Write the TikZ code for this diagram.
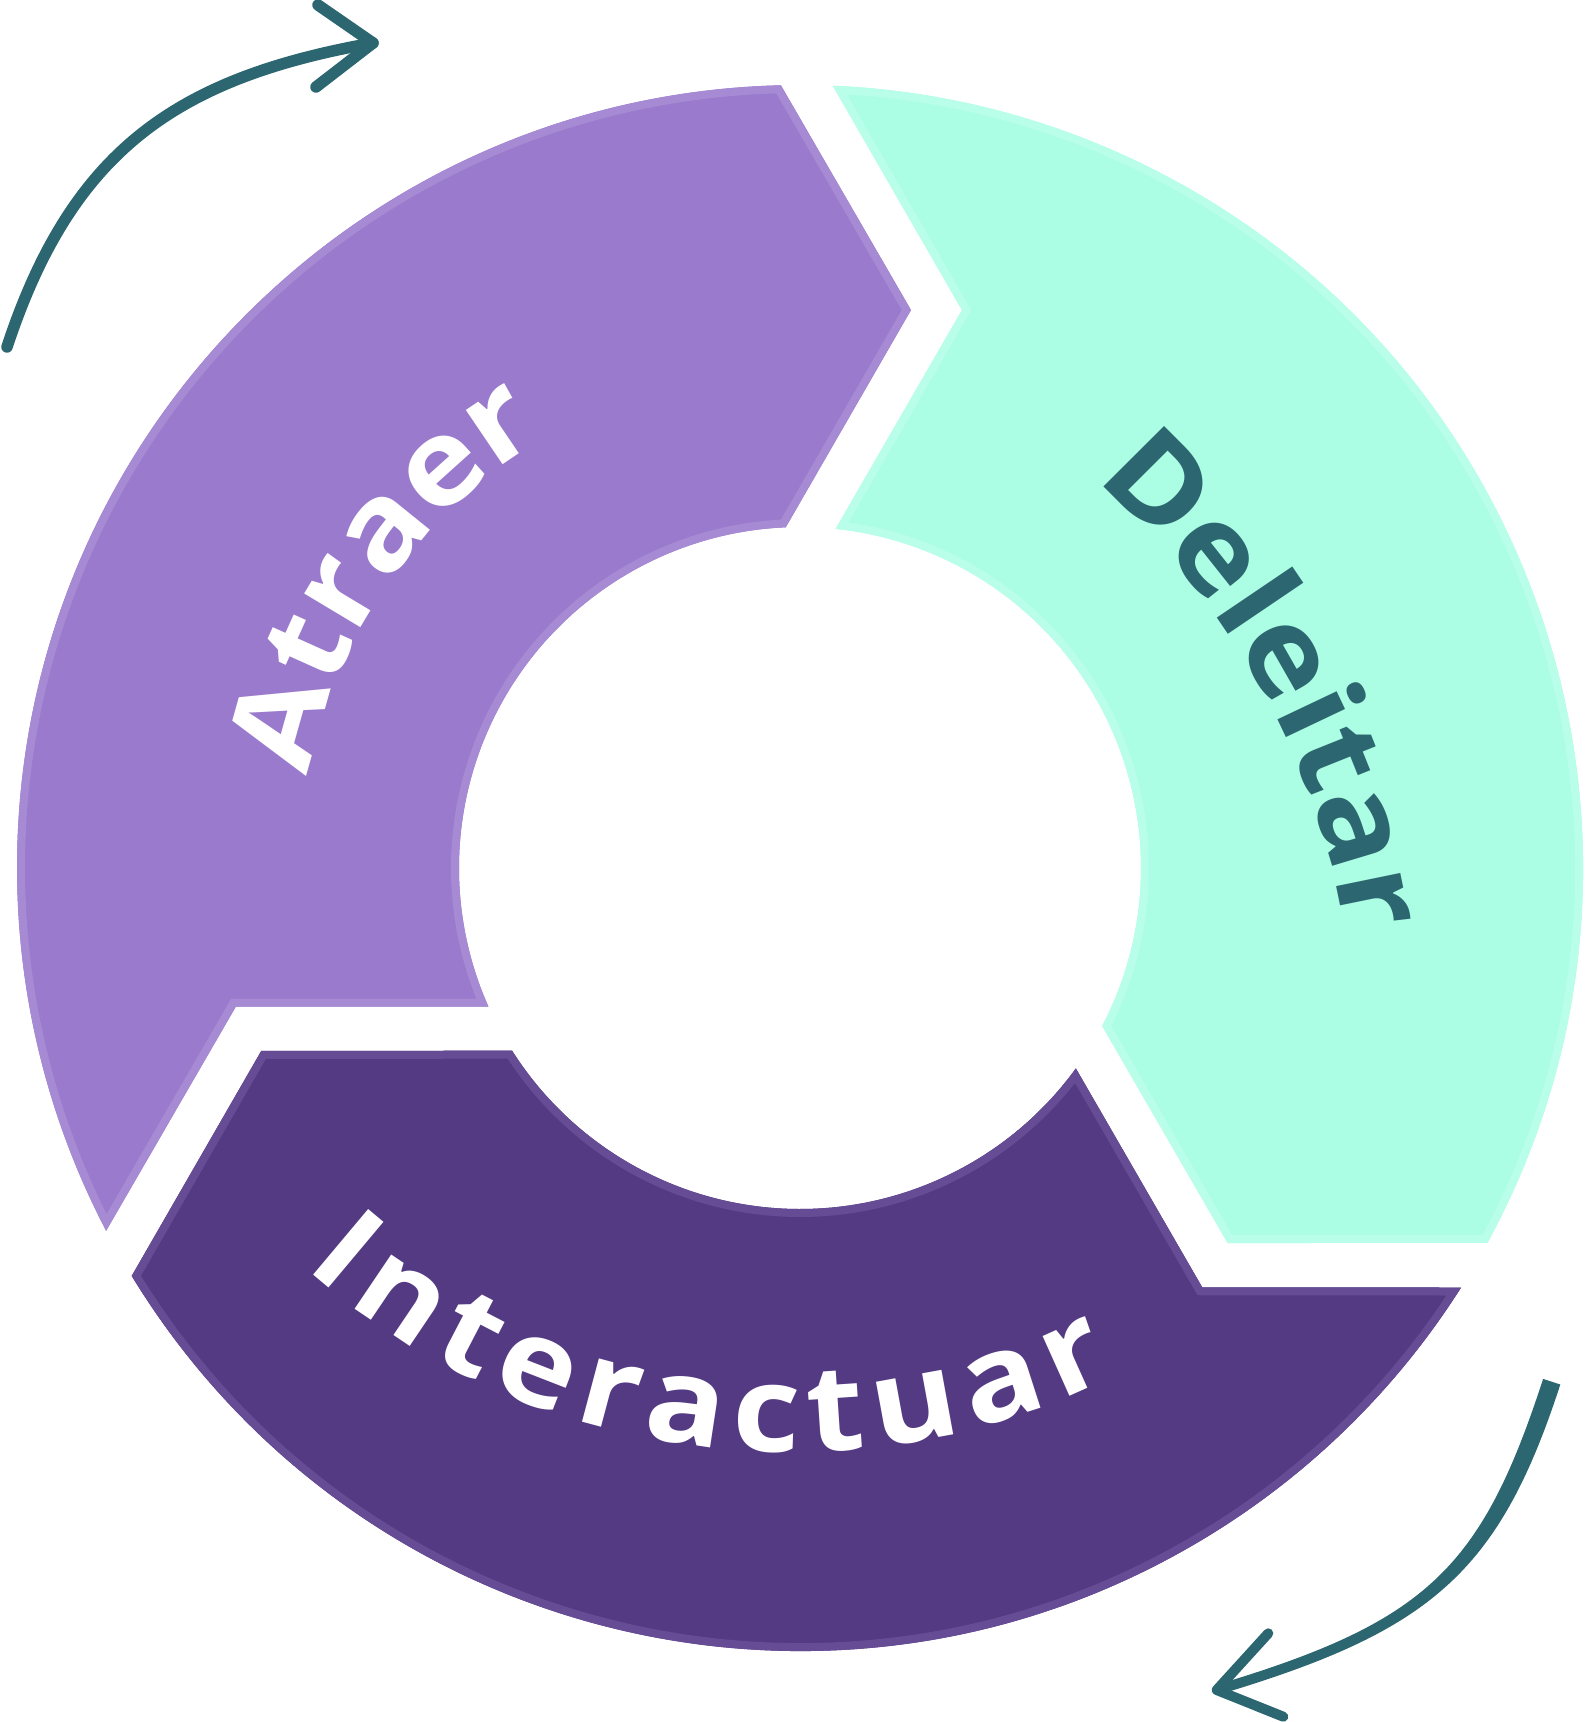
\documentclass[tikz,border=0pt]{standalone}
\usepackage{fontspec}
\newfontfamily\lblfont{Open Sans}[FakeStretch=1.1]
\usetikzlibrary{decorations.text}
\definecolor{atraerfill}{HTML}{9A7ACC}
\definecolor{atraeredge}{HTML}{A68AD3}
\definecolor{deleitarfill}{HTML}{ABFDE3}
\definecolor{deleitaredge}{HTML}{B8FEE9}
\definecolor{interfill}{HTML}{533A83}
\definecolor{interedge}{HTML}{654C94}
\definecolor{arrowteal}{HTML}{2C6670}
\newcommand{\ringpiece}[3]{%
  \begin{scope}[rotate=#1]
    \begin{scope}
      \clip (87.6:783) -- (73.81:581) -- (84:341)
        arc[start angle=84, end angle=-27.6, radius=341]
        -- (-41.25:568.9) -- (-28.6:783)
        arc[start angle=-28.6, end angle=87.6, radius=783] -- cycle;
      \fill[#2] (-900,-900) rectangle (900,900);
      \draw[#3, line width=16] (87.6:783) -- (73.81:581) -- (84:341)
        arc[start angle=84, end angle=-27.6, radius=341]
        -- (-41.25:568.9) -- (-28.6:783)
        arc[start angle=-28.6, end angle=87.6, radius=783] -- cycle;
    \end{scope}
  \end{scope}}
\tikzset{
  lbltext/.style={decorate, decoration={text along path,
      text={|\lblfont\bfseries\fontsize{120}{120}\selectfont|#1},
      text align={fit to path}}},
  curvearrow/.style={arrowteal, line width=11.5, line cap=round, line join=round}
}
\begin{document}
\begin{tikzpicture}[x=1pt,y=1pt]
\useasboundingbox (-800,-854) rectangle (786,868);
% ring pieces
\ringpiece{120}{atraerfill}{atraeredge}
\ringpiece{0}{deleitarfill}{deleitaredge}
\ringpiece{-120}{interfill}{interedge}
% labels
\path[lbltext=Atraer, decoration={text color=white}]
  (169.5:500) arc[start angle=169.5, end angle=123.5, radius=500];
\path[shift={(-221.6,-194.4)}, lbltext=Deleitar, decoration={text color=arrowteal}]
  (48.5:778.5) arc[start angle=48.5, end angle=10.0, radius=778.5];
\path[shift={(-10.4,144.6)}, lbltext=Interactuar, decoration={text color=white}]
  (228.3:728.8) arc[start angle=228.3, end angle=296.5, radius=728.8];
% top-left curved arrow
\draw[curvearrow] (-793,521) .. controls (-728,718) and (-623.4,790) .. (-427,825);
\draw[curvearrow] (-482,863) -- (-427,825) -- (-484,781);
% bottom-right curved arrow
\fill[arrowteal] (760.3,-516.5) .. controls (698.5,-706.7) and (628.9,-763.7) .. (418.1,-826.8)
  -- (415.3,-817.2) .. controls (626.1,-754.1) and (681.3,-701.1) .. (743.1,-510.9) -- cycle;
\draw[curvearrow, line width=10] (468.3,-765.3) -- (416.7,-822) -- (483.3,-848.7);
\end{tikzpicture}
\end{document}
